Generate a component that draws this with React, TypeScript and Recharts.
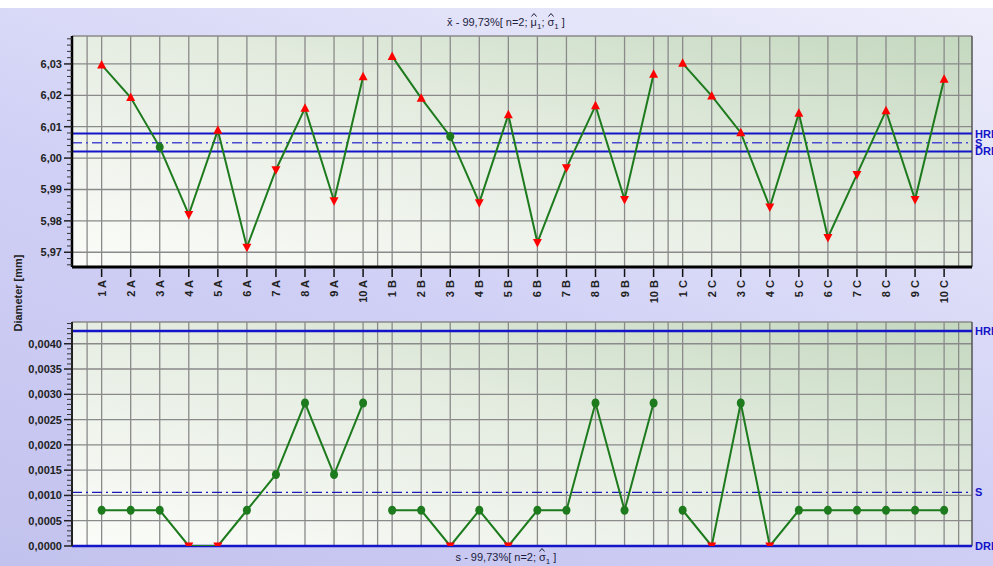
import React from 'react';
import { LineChart, Line, XAxis, YAxis, CartesianGrid, ReferenceLine } from 'recharts';

const groupA = ['1 A', '2 A', '3 A', '4 A', '5 A', '6 A', '7 A', '8 A', '9 A', '10 A'];
const groupB = ['1 B', '2 B', '3 B', '4 B', '5 B', '6 B', '7 B', '8 B', '9 B', '10 B'];
const groupC = ['1 C', '2 C', '3 C', '4 C', '5 C', '6 C', '7 C', '8 C', '9 C', '10 C'];
const categories = [...groupA, ...groupB, ...groupC];

const meanA = [6.0297, 6.0193, 6.0035, 5.982, 6.0089, 5.9716, 5.9963, 6.0159, 5.9864, 6.0259];
const meanB = [6.0324, 6.0191, 6.0069, 5.9858, 6.0138, 5.9731, 5.9969, 6.0167, 5.9868, 6.0267];
const meanC = [6.0302, 6.0198, 6.0081, 5.9844, 6.0143, 5.9747, 5.9948, 6.0151, 5.9868, 6.0251];

const sdA = [0.000707, 0.000707, 0.000707, 0, 0, 0.000707, 0.001414, 0.002828, 0.001414, 0.002828];
const sdB = [0.000707, 0.000707, 0, 0.000707, 0, 0.000707, 0.000707, 0.002828, 0.000707, 0.002828];
const sdC = [0.000707, 0, 0.002828, 0, 0.000707, 0.000707, 0.000707, 0.000707, 0.000707, 0.000707];

const meanHRI = 6.0078;
const meanS = 6.0049;
const meanDRI = 6.0021;
const sdHRI = 0.00425;
const sdS = 0.00106;
const sdDRI = 0;

const meanMajorTicks = [5.97, 5.98, 5.99, 6.0, 6.01, 6.02, 6.03];
const sdMajorTicks = [0, 0.0005, 0.001, 0.0015, 0.002, 0.0025, 0.003, 0.0035, 0.004];

const meanDomain = [5.9653, 6.0389];
const sdDomain = [0, 0.00443];
const xDomain = [-0.02, 30.96];

const FONT = '"Liberation Sans", Arial, sans-serif';
const GREEN = '#1d7a1d';
const RED = '#ff0000';
const BLUE = '#1414c8';
const GRID = '#8a8a8a';

const meanRows = categories.map((label, i) => ({
  x: i + 1,
  label,
  a: i < 10 ? meanA[i] : null,
  b: i >= 10 && i < 20 ? meanB[i - 10] : null,
  c: i >= 20 ? meanC[i - 20] : null,
}));

const sdRows = categories.map((label, i) => ({
  x: i + 1,
  label,
  a: i < 10 ? sdA[i] : null,
  b: i >= 10 && i < 20 ? sdB[i - 10] : null,
  c: i >= 20 ? sdC[i - 20] : null,
}));

const xTicks = categories.map((_, i) => i + 1);
const verticalGrid = [0.5, ...xTicks, 10.5, 20.5, 30.5].sort((p, q) => p - q);

function minorTicks(from: number, to: number, step: number) {
  const out: number[] = [];
  const n = Math.round((to - from) / step);
  for (let k = 0; k <= n; k++) out.push(Math.round((from + k * step) * 1e6) / 1e6);
  return out;
}
const meanAllTicks = minorTicks(5.966, 6.038, 0.002);
const sdAllTicks = minorTicks(0, 0.0044, 0.0001);

function makeYTick(majors: number[], decimals: number) {
  return (props: any) => {
    const { x, y, payload } = props;
    const v = payload.value;
    const isMajor = majors.some((m) => Math.abs(m - v) < 1e-9);
    if (isMajor) {
      return (
        <g>
          <line x1={x - 8} x2={x} y1={y} y2={y} stroke="#222" strokeWidth={1.5} />
          <text x={x - 10} y={y} dy={4} textAnchor="end" fontSize={11} fontWeight="bold" fill="#222" fontFamily={FONT}>
            {v.toFixed(decimals).replace('.', ',')}
          </text>
        </g>
      );
    }
    return <line x1={x - 5} x2={x} y1={y} y2={y} stroke="#333" strokeWidth={1} />;
  };
}

const XTick = (props: any) => {
  const { x, y, payload } = props;
  const label = categories[payload.value - 1] ?? '';
  return (
    <g>
      <line x1={x} x2={x} y1={y} y2={y + 8} stroke="#111" strokeWidth={1.5} />
      <text
        x={x}
        y={y + 11}
        transform={`rotate(-90 ${x} ${y + 11})`}
        textAnchor="end"
        dy={4}
        fontSize={11}
        fontWeight="bold"
        fill="#222"
        fontFamily={FONT}
      >
        {label}
      </text>
    </g>
  );
};

function Marker(props: any, hri: number, dri: number) {
  const { cx, cy, value, index } = props;
  const key = `m${index}`;
  if (cx == null || cy == null || value == null) return <g key={key} />;
  if (value > hri) {
    return <polygon key={key} points={`${cx},${cy - 5} ${cx - 4.5},${cy + 3.5} ${cx + 4.5},${cy + 3.5}`} fill={RED} />;
  }
  if (value <= dri) {
    return <polygon key={key} points={`${cx},${cy + 5} ${cx - 4.5},${cy - 3.5} ${cx + 4.5},${cy - 3.5}`} fill={RED} />;
  }
  return <ellipse key={key} cx={cx} cy={cy} rx={4} ry={4.5} fill={GREEN} />;
}

const meanDot = (p: any) => Marker(p, meanHRI, meanDRI);
const sdDot = (p: any) => Marker(p, sdHRI, sdDRI);

const limitLabel = (value: string) => ({
  value,
  position: 'right' as const,
  offset: 3,
  fill: BLUE,
  fontSize: 11,
  fontWeight: 'bold',
  fontFamily: FONT,
});

function PlotDefs({ id }: { id: string }) {
  return (
    <defs>
      <linearGradient id={id} x1="0" y1="1" x2="1" y2="0">
        <stop offset="0%" stopColor="#fbfcf9" />
        <stop offset="55%" stopColor="#e4ece0" />
        <stop offset="100%" stopColor="#c4d8bf" />
      </linearGradient>
    </defs>
  );
}

const Hat = ({ ch }: { ch: string }) => (
  <span style={{ display: 'inline-block', position: 'relative' }}>
    {ch}
    <svg
      width={6}
      height={4}
      style={{ position: 'absolute', left: '50%', top: -3, marginLeft: -3, overflow: 'visible' }}
    >
      <polyline points="0.5,3.5 3,0.5 5.5,3.5" fill="none" stroke="#1c1c3c" strokeWidth={1} />
    </svg>
  </span>
);

export default function App() {
  return (
    <div
      style={{
        position: 'absolute',
        left: 0,
        top: 0,
        width: 993,
        height: 566,
        overflow: 'hidden',
        background: 'linear-gradient(20deg, #c2c2ee 0%, #d0d0f6 45%, #eeeefb 100%)',
        fontFamily: FONT,
      }}
    >
      <div style={{ position: 'absolute', left: 0, top: 0, width: 993, height: 8, background: '#ffffff' }} />
      <div style={{ position: 'absolute', left: 0, top: 0 }}>
        <LineChart width={993} height={310} data={meanRows} margin={{ top: 36, right: 21, left: 0, bottom: 3 }}>
          <PlotDefs id="gTop" />
          <CartesianGrid
            fill="url(#gTop)"
            stroke={GRID}
            strokeWidth={1.3}
            horizontalValues={[...meanMajorTicks, meanDomain[1]]}
            verticalValues={verticalGrid}
          />
          <XAxis
            type="number"
            dataKey="x"
            domain={xDomain}
            allowDataOverflow
            ticks={xTicks}
            interval={0}
            tick={<XTick />}
            tickSize={0}
            tickLine={false}
            height={40}
            axisLine={{ stroke: '#000', strokeWidth: 3 }}
          />
          <YAxis
            type="number"
            domain={meanDomain}
            allowDataOverflow
            ticks={meanAllTicks}
            interval={0}
            tick={makeYTick(meanMajorTicks, 2)}
            tickSize={0}
            tickMargin={0}
            tickLine={false}
            width={72}
            axisLine={{ stroke: '#000', strokeWidth: 2.5 }}
          />
          <ReferenceLine x={xDomain[1]} stroke="#555" strokeWidth={1.5} />
          <ReferenceLine y={meanHRI} stroke={BLUE} strokeWidth={2} label={limitLabel('HRI')} />
          <ReferenceLine y={meanS} stroke="#4a4ad0" strokeWidth={1.5} strokeDasharray="10 4 2 4" label={limitLabel('S')} />
          <ReferenceLine y={meanDRI} stroke={BLUE} strokeWidth={2} label={limitLabel('DRI')} />
          <Line dataKey="a" stroke={GREEN} strokeWidth={2} dot={meanDot} isAnimationActive={false} connectNulls={false} />
          <Line dataKey="b" stroke={GREEN} strokeWidth={2} dot={meanDot} isAnimationActive={false} connectNulls={false} />
          <Line dataKey="c" stroke={GREEN} strokeWidth={2} dot={meanDot} isAnimationActive={false} connectNulls={false} />
        </LineChart>
      </div>
      <div style={{ position: 'absolute', left: 0, top: 300 }}>
        <LineChart width={993} height={266} data={sdRows} margin={{ top: 22, right: 21, left: 0, bottom: 20 }}>
          <PlotDefs id="gBot" />
          <CartesianGrid
            fill="url(#gBot)"
            stroke={GRID}
            strokeWidth={1.3}
            vertical={false}
            horizontalValues={[...sdMajorTicks, sdDomain[1]]}
          />
          <XAxis type="number" dataKey="x" domain={xDomain} allowDataOverflow hide />
          <YAxis
            type="number"
            domain={sdDomain}
            allowDataOverflow
            ticks={sdAllTicks}
            interval={0}
            tick={makeYTick(sdMajorTicks, 4)}
            tickSize={0}
            tickMargin={0}
            tickLine={false}
            width={72}
            axisLine={{ stroke: '#222', strokeWidth: 2 }}
          />
          {verticalGrid.map((v) => (
            <ReferenceLine key={`vg${v}`} x={v} stroke={GRID} strokeWidth={1.3} />
          ))}
          <ReferenceLine x={xDomain[1]} stroke="#555" strokeWidth={1.5} />
          <ReferenceLine y={sdHRI} stroke={BLUE} strokeWidth={2.5} label={limitLabel('HRI')} />
          <ReferenceLine y={sdS} stroke="#1a1ab8" strokeWidth={1.3} strokeDasharray="10 4 2 4" label={limitLabel('S')} />
          <ReferenceLine y={sdDRI} stroke={BLUE} strokeWidth={2.5} label={limitLabel('DRI')} />
          <Line dataKey="a" stroke={GREEN} strokeWidth={2} dot={sdDot} isAnimationActive={false} connectNulls={false} />
          <Line dataKey="b" stroke={GREEN} strokeWidth={2} dot={sdDot} isAnimationActive={false} connectNulls={false} />
          <Line dataKey="c" stroke={GREEN} strokeWidth={2} dot={sdDot} isAnimationActive={false} connectNulls={false} />
        </LineChart>
      </div>
      <div
        style={{
          position: 'absolute',
          left: 406,
          top: 16,
          width: 200,
          textAlign: 'center',
          fontSize: 11,
          color: '#1c1c3c',
          whiteSpace: 'nowrap',
        }}
      >
        x̄ - 99,73%[ n=2; <Hat ch="μ" />
        <sub style={{ fontSize: 8 }}>1</sub>; <Hat ch="σ" />
        <sub style={{ fontSize: 8 }}>1</sub> ]
      </div>
      <div
        style={{
          position: 'absolute',
          left: 406,
          top: 551,
          width: 200,
          textAlign: 'center',
          fontSize: 11,
          color: '#1c1c3c',
          whiteSpace: 'nowrap',
        }}
      >
        s - 99,73%[ n=2; <Hat ch="σ" />
        <sub style={{ fontSize: 8 }}>1</sub> ]
      </div>
      <div
        style={{
          position: 'absolute',
          left: 18,
          top: 293,
          transform: 'translate(-50%, -50%) rotate(-90deg)',
          fontSize: 11,
          fontWeight: 'bold',
          color: '#222',
          whiteSpace: 'nowrap',
        }}
      >
        Diameter [mm]
      </div>
    </div>
  );
}
